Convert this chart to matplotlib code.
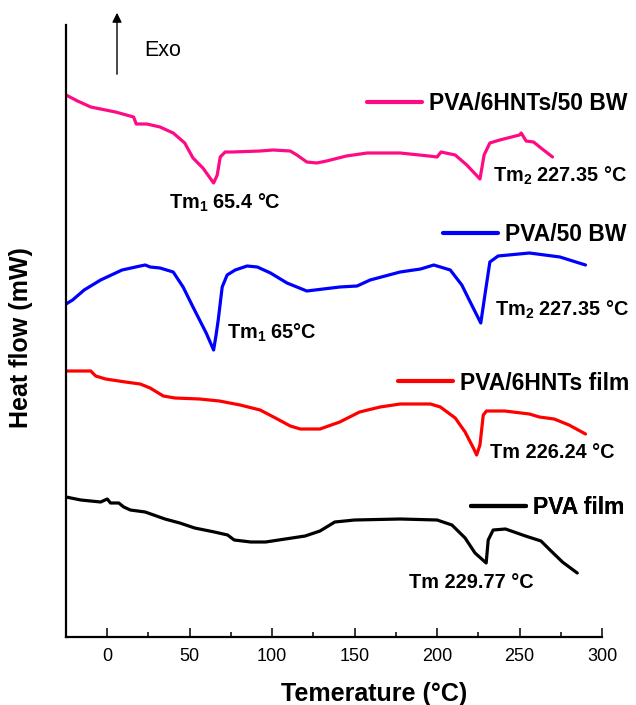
import matplotlib
matplotlib.use("Agg")
import matplotlib.pyplot as plt
from matplotlib.ticker import MultipleLocator

plt.rcParams['font.family'] = ['Liberation Sans', 'DejaVu Sans']
plt.rcParams['mathtext.fontset'] = 'custom'
plt.rcParams['mathtext.rm'] = 'Liberation Sans:bold'
plt.rcParams['mathtext.bf'] = 'Liberation Sans:bold'
plt.rcParams['mathtext.it'] = 'Liberation Sans:bold'

# ---- data (temperature in °C, heat flow in arbitrary offset units) ----
t_pink = [-25, -18, -10, 5, 16, 17.6, 24, 32, 40, 47, 52, 58, 64.5, 66.7, 68.5, 71.5, 75.8, 92.7,
          100.6, 111, 115, 121, 127, 133, 145, 157.6, 177.6, 195, 200, 202.4, 211, 218, 226, 228.5,
          232, 238, 250, 251, 254, 258.5, 263, 270]
h_pink = [542, 536, 530, 525, 520, 513, 513, 510, 504, 494, 479, 469, 454, 462, 480, 485, 485, 486,
          487, 486, 482, 475, 474, 476, 481, 484, 484, 481, 480, 485, 482, 472, 458, 482,
          494, 497, 502, 504, 496, 495, 489, 480]

t_blue = [-25, -21, -14, -4, 9, 20, 23, 26, 32, 40, 46, 52, 56, 60, 64.5, 66, 67.3, 69.7, 72.7,
          77.6, 84.8, 91, 99, 109, 121, 141, 151.5, 159.4, 177.6, 190, 198, 208, 215, 221, 226.5,
          229, 232, 237, 256, 274.5, 290]
h_blue = [333, 337, 347, 357, 367, 371, 372, 370, 369, 365, 350, 330, 317, 304, 287, 302, 317, 350, 362,
          367, 371, 370, 364, 354, 346, 350, 351, 357, 365, 368, 372, 367, 352, 332, 314,
          342, 375, 381, 384, 380, 372]

t_red = [-25, -16, -10, -7, -1, 11, 20, 26, 34, 41, 56, 68, 80.6, 92.7, 102, 111, 117, 129,
         141, 153, 165.5, 177.6, 196, 202, 211, 217, 222, 224, 226, 228, 230, 241, 256, 262, 271, 280, 290]
h_red = [266, 266, 266, 261, 258, 255, 253, 249, 241, 239, 238, 236, 232, 227, 219, 211, 208, 208,
         215, 225, 230, 233, 233, 230, 219, 205, 189, 182, 192, 222, 226, 226, 223, 220, 218, 212, 203]

t_black = [-25, -16, -4, 0, 2, 7, 10, 14, 23, 35, 44, 53, 65, 73, 77, 87, 96, 108, 120, 129,
           138, 150, 177.6, 200, 209, 217, 223, 229.77, 231, 234, 241.5, 253.6, 263, 268.5, 276, 285]
h_black = [140, 137, 135, 138, 134, 134, 130, 127, 125, 118, 114, 109, 105, 102, 97, 95, 95, 98,
           101, 106, 115, 117, 118, 117, 112, 99, 84, 74, 97, 107, 108, 101, 96, 87, 75, 64]

labels = ["PVA/6HNTs/50 BW", "PVA/50 BW", "PVA/6HNTs film", "PVA film"]
colors = ["#FF0A85", "#0000FF", "#FF0000", "#000000"]

fig = plt.figure(figsize=(6.36, 7.05), dpi=100)
ax = fig.add_axes([66/636, 68/705, 536/636, 612/705])

series = [(t_pink, h_pink), (t_blue, h_blue), (t_red, h_red), (t_black, h_black)]
lines = []
for (t, h), c in zip(series, colors):
    ln, = ax.plot(t, h, color=c, lw=2.3, solid_joinstyle='round', solid_capstyle='round')
    lines.append(ln)

ax.set_xlim(-25, 300)
ax.set_ylim(0, 612)
ax.set_yticks([])
ax.xaxis.set_major_locator(MultipleLocator(50))
ax.xaxis.set_minor_locator(MultipleLocator(25))
ax.tick_params(axis='x', which='major', direction='in', length=6.5, width=1.1, pad=8, labelsize=13)
ax.tick_params(axis='x', which='minor', direction='in', length=3.5, width=1.1)
for s in ['top', 'right']:
    ax.spines[s].set_visible(False)
for s in ['left', 'bottom']:
    ax.spines[s].set_linewidth(1.6)

ax.set_xlabel("Temerature (°C)", fontsize=18, fontweight='bold')
ax.xaxis.set_label_coords(0.575, -0.074)
ax.set_ylabel("Heat flow (mW)", fontsize=18, fontweight='bold')
ax.yaxis.set_label_coords(-0.062, 0.49)

# legends, one per curve
leg_pos = [(0.561, 0.871), (0.703, 0.657), (0.619, 0.415), (0.755, 0.212)]
for ln, lab, pos in zip(lines, labels, leg_pos):
    lg = ax.legend([ln], [lab], loc='center left', bbox_to_anchor=pos, frameon=False,
                   prop={'size': 16.5, 'weight': 'bold'}, handlelength=2.4, handletextpad=0.3,
                   borderpad=0, borderaxespad=0)
    for hl in lg.get_lines():
        hl.set_linewidth(3)
    ax.add_artist(lg)

# annotations
ann = dict(fontsize=14.3, fontweight='bold', ha='center', va='center')
ax.text(71.5, 434, r"Tm$_{\mathbf{1}}$ 65.4 °C", **ann)
ax.text(274.5, 461, r"Tm$_{\mathbf{2}}$ 227.35 °C", **ann)
ax.text(100, 304, r"Tm$_{\mathbf{1}}$ 65°C", **ann)
ax.text(275.8, 327, r"Tm$_{\mathbf{2}}$ 227.35 °C", **ann)
ax.text(270, 184, "Tm 226.24 °C", **ann)
ax.text(220.6, 54, "Tm 229.77 °C", **ann)

# Exo arrow
ax.annotate("", xy=(117, 695), xycoords='figure pixels', xytext=(117, 628), textcoords='figure pixels',
            arrowprops=dict(arrowstyle='-|>', mutation_scale=14, lw=1.0, color='black'),
            annotation_clip=False)
fig.text(163/636, 655/705, "Exo", fontsize=15.5, ha='center', va='center')

fig.savefig("out.png", dpi=100)
